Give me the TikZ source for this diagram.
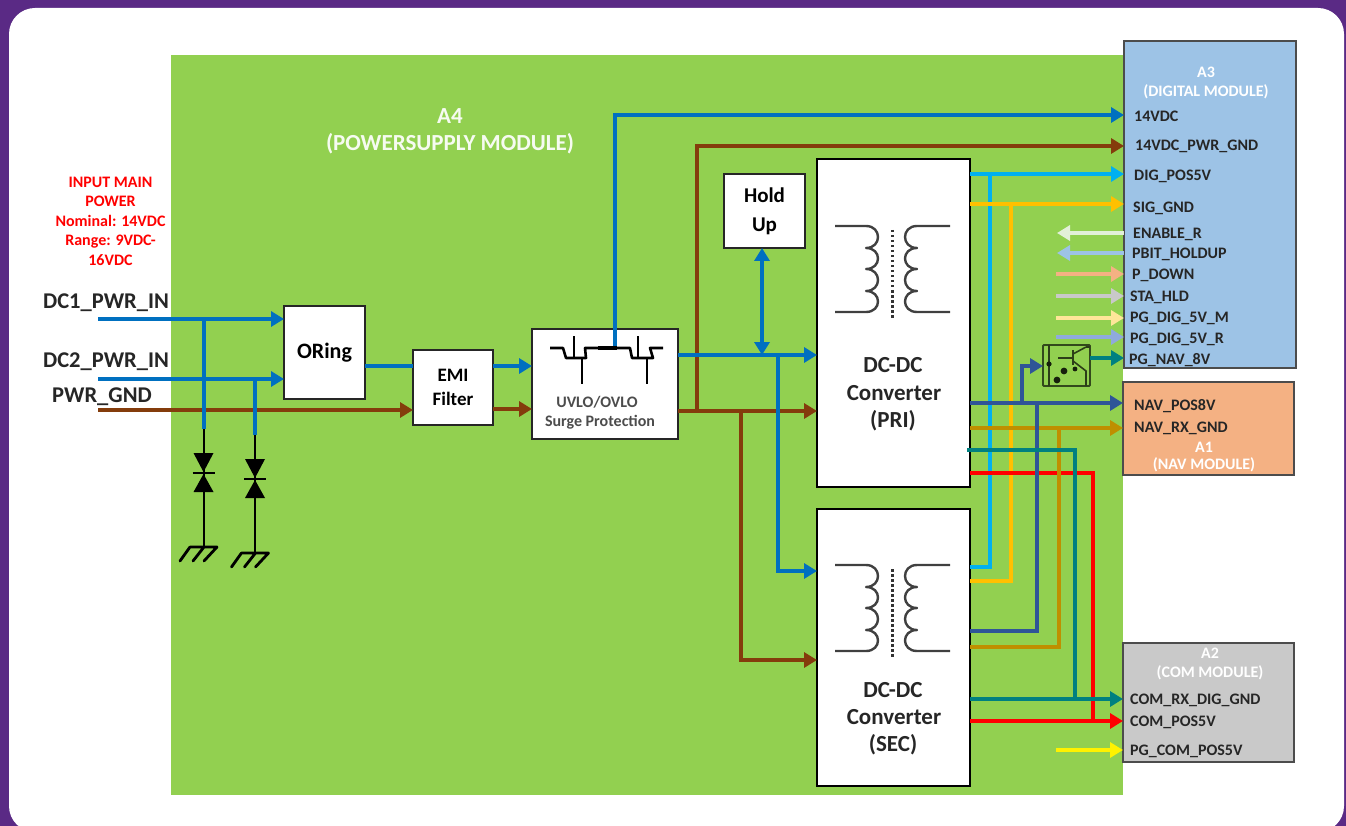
\documentclass[tikz,border=0pt]{standalone}
\usepackage{fontspec}
\setmainfont{Carlito}
\usetikzlibrary{arrows.meta,calc}
\definecolor{cblue}{HTML}{0070C0}
\definecolor{cbrown}{HTML}{843C0C}
\definecolor{ccyan}{HTML}{00B0F0}
\definecolor{camber}{HTML}{FFC000}
\definecolor{cnavy}{HTML}{2F5597}
\definecolor{cgold}{HTML}{BF8F00}
\definecolor{cteal}{HTML}{008080}
\definecolor{cgreen}{HTML}{92D050}
\definecolor{ca3}{HTML}{9DC3E6}
\definecolor{ca1}{HTML}{F4B183}
\definecolor{ca2}{HTML}{C9C9C9}
\definecolor{cpurple}{HTML}{5A2A85}
\definecolor{ctxt}{HTML}{262626}
\tikzset{
  wire/.style={line width=4pt},
  awire/.style={line width=4pt,-{Triangle[length=13pt,width=15pt]}},
  thick wire/.style={line width=4.6pt},
  box/.style={draw=black!85,line width=1.4pt,fill=white,inner sep=0pt,outer sep=0pt,font=\bfseries\color{ctxt},align=center},
  bigbox/.style={draw=black,line width=2.6pt,fill=white,inner sep=0pt,outer sep=0pt},
  modbox/.style={draw=black!70,line width=1.5pt,inner sep=0pt,outer sep=0pt},
  port/.style={anchor=west,inner sep=0pt,font=\fontsize{16}{16}\selectfont\bfseries,text=ctxt},
  wtxt/.style={inner sep=0pt,font=\fontsize{16}{16}\selectfont\bfseries,text=white},
  conv/.style={inner sep=0pt,font=\fontsize{23}{23}\selectfont\bfseries,text=ctxt},
  blk/.style={line width=2.8pt,black},
  sym/.style={line width=2.4pt,black!75,line join=round},
  diode/.style={fill=black,draw=none}
}
\newcommand{\coilpair}[1]{%
  \begin{scope}[shift={(0,#1)}]
    \draw[sym] (835,226) -- (866,226) .. controls (882,226) and (882,248) .. (866,248)
       .. controls (882,248) and (882,269) .. (866,269)
       .. controls (882,269) and (882,291) .. (866,291)
       .. controls (882,291) and (882,312) .. (866,312) -- (835,312);
    \draw[sym] (950,226) -- (917,226) .. controls (901,226) and (901,248) .. (917,248)
       .. controls (901,248) and (901,269) .. (917,269)
       .. controls (901,269) and (901,291) .. (917,291)
       .. controls (901,291) and (901,312) .. (917,312) -- (950,312);
    \draw[line width=3pt,black!80,dash pattern=on 2.5pt off 2.5pt] (892,230) -- (892,318);
  \end{scope}}
\newcommand{\gndsym}[2]{%
  \draw[line width=2.8pt,black,line cap=round] (#1-14,#2) -- (#1+13,#2)
    (#1-14,#2) -- (#1-24,#2+14) (#1,#2) -- (#1-11,#2+14) (#1+13,#2) -- (#1,#2+14);}
\newcommand{\tvs}[2]{%
  \fill[diode] (#1-10,#2-20) -- (#1+10,#2-20) -- (#1,#2-1) -- cycle;
  \fill[diode] (#1-10,#2+19) -- (#1+10,#2+19) -- (#1,#2+1) -- cycle;
  \draw[line width=2.2pt,black] (#1-11,#2) -- (#1+11,#2);}
\begin{document}
\begin{tikzpicture}[x=1pt,y=-1pt]
\useasboundingbox (0,0) rectangle (1346,826);
\clip (0,0) rectangle (1346,826);
\fill[cpurple] (0,0) rectangle (1346,826);
\fill[white,rounded corners=26pt] (9,8) rectangle (1344,832);
\fill[cgreen] (171,55) rectangle (1123,795);

% modules and blocks
\node[modbox,fill=ca3,minimum width=172pt,minimum height=327pt] (a3) at (1210,204.5) {};
\node[modbox,fill=ca1,minimum width=171pt,minimum height=93pt] (a1) at (1208.5,428.5) {};
\node[modbox,fill=ca2,minimum width=171pt,minimum height=119pt] (a2) at (1208.5,702.5) {};
\node[box,minimum width=81pt,minimum height=93pt,font=\fontsize{22}{22}\selectfont\bfseries] (oring) at (324.5,352.5) {ORing};
\node[box,minimum width=80pt,minimum height=75pt,font=\fontsize{19}{24}\selectfont\bfseries] (emi) at (453,387.5) {EMI\\Filter};
\node[box,minimum width=146pt,minimum height=110pt] (uvlo) at (605,384) {};
\node[box,minimum width=81pt,minimum height=74pt,font=\fontsize{21}{29}\selectfont\bfseries] (hold) at (764.5,211) {Hold\\Up};
\node[bigbox,minimum width=153pt,minimum height=328pt] (pri) at (893.5,323) {};
\node[bigbox,minimum width=153pt,minimum height=277pt] (sec) at (893.5,647.5) {};

% port levels
\coordinate (dc1) at (98,319);
\coordinate (dc2) at (98,379);
\coordinate (gnd) at (98,410);
\coordinate (cv1) at (204,319);
\coordinate (cv2) at (255,379);
\coordinate (t1) at (204,429);
\coordinate (t2) at (255,435);
\coordinate (g1) at (204,547);
\coordinate (g2) at (255,553);
\coordinate (orout) at (365,366);
\coordinate (eb) at (493,366);
\coordinate (eg) at (493,409);
\coordinate (ub) at (678,355);
\coordinate (ug) at (678,411);
\coordinate (vbat) at (615,115);
\coordinate (up) at (615,348);
\coordinate (vgnd) at (697,146);
\coordinate (bh) at (762,355);
\coordinate (bs) at (778,355);
\coordinate (bss) at (778,571);
\coordinate (gs) at (741,411);
\coordinate (gss) at (741,660);
\coordinate (vg) at (697,411);
\coordinate (ycyan) at (990,174);
\coordinate (ycyb) at (990,567);
\coordinate (yamb) at (1011,204);
\coordinate (yamb2) at (1011,581);
\coordinate (ynav) at (1037,403);
\coordinate (ynav2) at (1037,631);
\coordinate (yop) at (1022,403);
\coordinate (yop2) at (1022,366);
\coordinate (ygold) at (1059,428);
\coordinate (ygold2) at (1059,647);
\coordinate (ytl) at (967,450);
\coordinate (ytc) at (1075,450);
\coordinate (ytb) at (1075,699);
\coordinate (yrd) at (1093,473);
\coordinate (yrb) at (1093,721);
\coordinate (en) at (1057,233);
\coordinate (pb) at (1057,253);
\coordinate (pd) at (1056,274);
\coordinate (st) at (1056,296);
\coordinate (pm) at (1056,318);
\coordinate (pr) at (1056,337);
\coordinate (yy) at (1056,750);

% input side
\draw[awire,cbrown] (gnd) -- (emi.west |- gnd);
\draw[awire,cblue] (dc1) -- (oring.west |- dc1);
\draw[awire,cblue] (dc2) -- (oring.west |- dc2);
\draw[blk] (t1) -- (g1);
\draw[blk] (t2) -- (g2);
\draw[wire,cblue] (cv1) -- (t1);
\draw[wire,cblue] (cv2) -- (t2);
\tvs{203.5}{473}
\tvs{255}{479}
\gndsym{204}{547}
\gndsym{255.5}{553}

% main path
\draw[wire,cblue] (orout) -- (emi.west |- orout);
\draw[awire,cblue] (eb) -- (uvlo.west |- eb);
\draw[awire,cbrown] (eg) -- (uvlo.west |- eg);
\draw[thick wire,cblue,-{Triangle[length=13pt,width=15pt]}] (up) -- (vbat) -- (a3.west |- vbat);
\draw[awire,cbrown] (vg) -- (vgnd) -- (a3.west |- vgnd);
\draw[awire,cbrown] (ug) -- (pri.west |- ug);
\draw[awire,cbrown] (gs) -- (gss) -- (sec.west |- gss);
\draw[thick wire,cblue,-{Triangle[length=13pt,width=15pt]}] (ub) -- (pri.west |- ub);
\draw[awire,cblue] (bs) -- (bss) -- (sec.west |- bss);
\draw[wire,cblue,{Triangle[length=13pt,width=15pt]}-{Triangle[length=13pt,width=15pt]}] (hold.south -| bh) -- (bh);

% outputs
\draw[awire,ccyan] (pri.east |- ycyan) -- (a3.west |- ycyan);
\draw[wire,ccyan] (sec.east |- ycyb) -- (ycyb) -- (ycyan);
\draw[awire,camber] (pri.east |- yamb) -- (a3.west |- yamb);
\draw[wire,camber] (sec.east |- yamb2) -- (yamb2) -- (yamb);
\draw[wire,red] (pri.east |- yrd) -- (yrd) -- (yrb);
\draw[awire,red] (sec.east |- yrb) -- (a2.west |- yrb);
\draw[awire,cgold] (pri.east |- ygold) -- (a1.west |- ygold);
\draw[wire,cgold] (sec.east |- ygold2) -- (ygold2) -- (ygold);
\draw[awire,cnavy] (pri.east |- ynav) -- (a1.west |- ynav);
\draw[wire,cnavy] (sec.east |- ynav2) -- (ynav2) -- (ynav);
\draw[line width=3.4pt,cteal] (ytl) -- (ytc) -- (ytb);
\draw[awire,cteal] (sec.east |- ytb) -- (a2.west |- ytb);
\draw[awire,yellow] (yy) -- (a2.west |- yy);

% signal arrows on A3
\draw[awire,color={rgb,255:red,226;green,240;blue,217}] (a3.west |- en) -- (en);
\draw[awire,ca3] (a3.west |- pb) -- (pb);
\draw[awire,ca1] (pd) -- (a3.west |- pd);
\draw[awire,ca2] (st) -- (a3.west |- st);
\draw[awire,color={rgb,255:red,255;green,230;blue,153}] (pm) -- (a3.west |- pm);
\draw[awire,color={rgb,255:red,143;green,170;blue,220}] (pr) -- (a3.west |- pr);

% optocoupler
\node[draw=black!65!cgreen,line width=1.8pt,rounded corners=1pt,minimum width=47pt,minimum height=41pt,inner sep=0pt,outer sep=0pt] (opto) at (1066.5,365.5) {};
\draw[awire,cnavy] (yop) -- (yop2) -- (opto.west |- yop2);
\draw[awire,cteal] (opto.east |- 0,358) -- (a3.west |- 0,358);
\begin{scope}[line width=1.6pt,black!70!cgreen]
  \draw (1049,345) -- (1049,386);
  \draw (1073,350) -- (1073,365);
  \draw (1058,358) -- (1073,358);
  \draw (1073,354) -- (1086,347);
  \draw (1073,361) -- (1086,371) -- (1086,386);
  \draw (1086,347) -- (1090,347);
\end{scope}
\fill[black!85!cgreen] (1049,364) circle (2.6pt) (1064,371) circle (3.4pt) (1057,380) circle (3.4pt) (1075,369) circle (2.4pt);

% MOSFET pair
\begin{scope}[line width=2.6pt,black,line join=round]
  \draw (550,348) -- (563,348) -- (566,358) -- (586,358) -- (585,348) -- (598,348);
  \draw (574,336) -- (574,358);
  \draw (582,358) -- (582,384);
  \draw (617,348) -- (630,348) -- (632,358) -- (653,358) -- (650,348) -- (663,348);
  \draw (638,336) -- (638,358);
  \draw (647,358) -- (647,384);
  \draw[line width=4.2pt] (598,348) -- (617,348);
\end{scope}

% transformers
\coilpair{0}
\coilpair{339}

% text
\node[inner sep=0pt,font=\fontsize{16}{16}\selectfont\bfseries,text=red,align=center] (inp) at (110.5,221) {INPUT MAIN\\[3.5pt]POWER\\[3.5pt]Nominal: 14VDC\\[3.5pt]Range: 9VDC-\\[3.5pt]16VDC};
\node[inner sep=0pt,font=\fontsize{22.5}{22.5}\selectfont\bfseries,text=ctxt] (ldc1) at (106,303) {DC1\_PWR\_IN};
\node[inner sep=0pt,font=\fontsize{22.5}{22.5}\selectfont\bfseries,text=ctxt] (ldc2) at (106,362) {DC2\_PWR\_IN};
\node[inner sep=0pt,font=\fontsize{22.5}{22.5}\selectfont\bfseries,text=ctxt] (lgnd) at (102,397) {PWR\_GND};
\node[inner sep=0pt,font=\fontsize{23}{23}\selectfont\bfseries,text=white!92!cgreen] (la4) at (450,116) {A4};
\node[inner sep=0pt,font=\fontsize{23}{23}\selectfont\bfseries,text=white!92!cgreen] (la4b) at (450,144) {(POWERSUPPLY MODULE)};
\node[inner sep=0pt,font=\fontsize{16}{16}\selectfont\bfseries,text=black!70] (lu1) at (597,402) {UVLO/OVLO};
\node[inner sep=0pt,font=\fontsize{16}{16}\selectfont\bfseries,text=black!70] (lu2) at (600,422) {Surge Protection};
\node[conv] (lp1) at (893,365) {DC-DC};
\node[conv] (lp2) at (894,393) {Converter};
\node[conv] (lp3) at (893,421) {(PRI)};
\node[conv] (ls1) at (893,690) {DC-DC};
\node[conv] (ls2) at (894,717) {Converter};
\node[conv] (ls3) at (893,745) {(SEC)};
\node[wtxt] (a3t) at (1206,72) {A3};
\node[wtxt] (a3s) at (1206,92) {(DIGITAL MODULE)};
\node[wtxt] (a1t) at (1204,447) {A1};
\node[wtxt] (a1s) at (1204,465) {(NAV MODULE)};
\node[wtxt] (a2t) at (1210,653) {A2};
\node[wtxt] (a2s) at (1210,673) {(COM MODULE)};
\node[port] (l1) at (1134,116) {14VDC};
\node[port] (l2) at (1135,146) {14VDC\_PWR\_GND};
\node[port] (l3) at (1134,176) {DIG\_POS5V};
\node[port] (l4) at (1133,208) {SIG\_GND};
\node[port] (l5) at (1133,234) {ENABLE\_R};
\node[port] (l6) at (1132,254) {PBIT\_HOLDUP};
\node[port] (l7) at (1132,275) {P\_DOWN};
\node[port] (l8) at (1130,297) {STA\_HLD};
\node[port] (l9) at (1130,318) {PG\_DIG\_5V\_M};
\node[port] (l10) at (1130,339) {PG\_DIG\_5V\_R};
\node[port] (l11) at (1129,360) {PG\_NAV\_8V};
\node[port] (l12) at (1134,406) {NAV\_POS8V};
\node[port] (l13) at (1134,428) {NAV\_RX\_GND};
\node[port] (l14) at (1130,700) {COM\_RX\_DIG\_GND};
\node[port] (l15) at (1130,722) {COM\_POS5V};
\node[port] (l16) at (1130,751) {PG\_COM\_POS5V};
\end{tikzpicture}
\end{document}
